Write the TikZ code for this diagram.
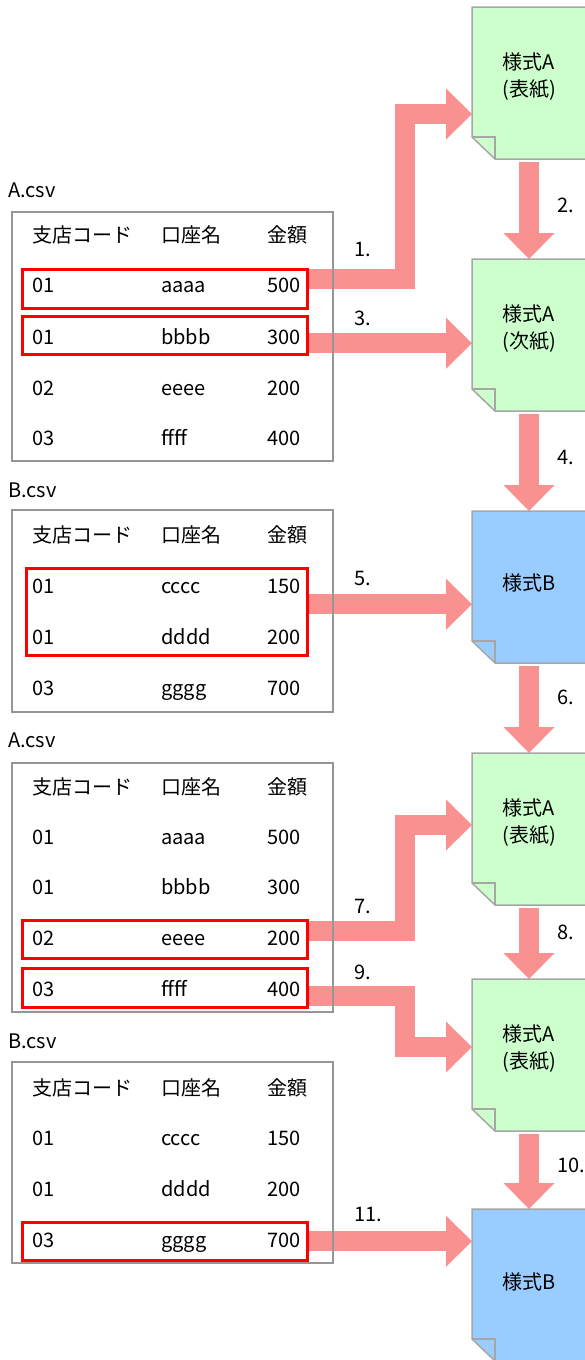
\documentclass[tikz,border=0pt]{standalone}
\usepackage{fontspec}
\setmainfont{Noto Sans CJK JP}
\usetikzlibrary{arrows.meta}
\definecolor{sheetA}{RGB}{204,255,204}
\definecolor{sheetB}{RGB}{153,204,255}
\definecolor{sheetgray}{RGB}{166,166,166}
\definecolor{tablegray}{RGB}{150,150,150}
\definecolor{arrowpink}{RGB}{250,145,145}
\pgfdeclarelayer{back}
\pgfsetlayers{back,main}

\begin{document}
\begin{tikzpicture}[x=1pt, y=-1pt, font=\fontsize{20}{24}\selectfont,
    fat/.style={draw=arrowpink, line width=20pt, line join=miter,
      -{Triangle[width=51pt, length=26pt, line width=0pt]}},
    cell/.style={anchor=west, inner sep=0pt, text height=14pt, text depth=0pt},
    csvlabel/.style={cell},
    steplabel/.style={cell},
    tablebox/.style={draw=tablegray, line width=1.6pt, anchor=north west,
      minimum width=321pt, inner sep=0pt, outer sep=0pt},
    rowbox/.style={draw=red, line width=2.5pt, anchor=north west,
      minimum width=285pt, inner sep=0pt},
    sheetbox/.style={anchor=north west, minimum width=114pt,
      minimum height=152pt, inner sep=0pt, outer sep=0pt},
    sheetline/.style={draw=sheetgray, line width=1.5pt},
    sheettext/.style={align=center, inner sep=0pt,
      font=\fontsize{20}{27}\selectfont}]

  \useasboundingbox (0,0) rectangle (585,1360);
  \clip (0,0) rectangle (585,1360);

  % output sheets
  \foreach \fm/\fy/\fc/\ft/\fd in {f1/7/sheetA/{様式A\\(表紙)}/6,
      f2/259/sheetA/{様式A\\(次紙)}/6, f3/511/sheetB/{様式B}/4,
      f4/753/sheetA/{様式A\\(表紙)}/6, f5/979/sheetA/{様式A\\(表紙)}/6,
      f6/1209/sheetB/{様式B}/3}{
    \node[sheetbox] (\fm) at (472,\fy) {};
    \draw[sheetline, fill=\fc] (\fm.north west) -- (\fm.north east)
      -- (\fm.south east) -- ++(-91,0) -- ++(-23,-22) -- cycle;
    \draw[sheetline] (\fm.south west) ++(0,-22) -- ++(23,0) -- ++(0,22);
    \node[sheettext] (\fm-txt) at ([yshift=\fd pt]\fm.center) {\ft};
  }

  % A.csv
  \node[csvlabel] (la1) at (8,190) {A.csv};
  \node[tablebox, minimum height=249pt] (t1) at (12,212) {};
  \foreach \ry/\ca/\cb/\cv in {235/支店コード/口座名/金額, 285/01/aaaa/500,
      337/01/bbbb/300, 388/02/eeee/200, 438/03/ffff/400}{
    \node[cell] (t1-\ry-a) at (32,\ry) {\ca};
    \node[cell] (t1-\ry-b) at (161,\ry) {\cb};
    \node[cell] (t1-\ry-c) at (267,\ry) {\cv};
  }
  \node[rowbox, minimum height=39pt] (r1) at (21,268) {};
  \node[rowbox, minimum height=38pt] (r3) at (21,315) {};

  % B.csv
  \node[csvlabel] (lb1) at (8,490) {B.csv};
  \node[tablebox, minimum height=202pt] (t2) at (12,510) {};
  \foreach \ry/\ca/\cb/\cv in {535/支店コード/口座名/金額, 586/01/cccc/150,
      637/01/dddd/200, 688/03/gggg/700}{
    \node[cell] (t2-\ry-a) at (32,\ry) {\ca};
    \node[cell] (t2-\ry-b) at (161,\ry) {\cb};
    \node[cell] (t2-\ry-c) at (267,\ry) {\cv};
  }
  \node[rowbox, minimum width=281pt, minimum height=87pt] (r5) at (25,567) {};

  % A.csv again
  \node[csvlabel] (la2) at (8,740) {A.csv};
  \node[tablebox, minimum height=249pt] (t3) at (12,763) {};
  \foreach \ry/\ca/\cb/\cv in {787/支店コード/口座名/金額, 837/01/aaaa/500,
      887/01/bbbb/300, 938/02/eeee/200, 989/03/ffff/400}{
    \node[cell] (t3-\ry-a) at (32,\ry) {\ca};
    \node[cell] (t3-\ry-b) at (161,\ry) {\cb};
    \node[cell] (t3-\ry-c) at (267,\ry) {\cv};
  }
  \node[rowbox, minimum height=38pt] (r7) at (21,919) {};
  \node[rowbox, minimum height=39pt] (r9) at (21,967) {};

  % B.csv again
  \node[csvlabel] (lb2) at (8,1041) {B.csv};
  \node[tablebox, minimum height=201pt] (t4) at (12,1062) {};
  \foreach \ry/\ca/\cb/\cv in {1088/支店コード/口座名/金額, 1138/01/cccc/150,
      1189/01/dddd/200, 1240/03/gggg/700}{
    \node[cell] (t4-\ry-a) at (32,\ry) {\ca};
    \node[cell] (t4-\ry-b) at (161,\ry) {\cb};
    \node[cell] (t4-\ry-c) at (267,\ry) {\cv};
  }
  \node[rowbox, minimum height=38pt] (r11) at (21,1221) {};

  % arrows
  \coordinate (s1) at ([yshift=9.5pt]r1.east);
  \coordinate (s3) at ([yshift=-8pt]r3.east);
  \coordinate (s5) at ([yshift=7.5pt]r5.east);
  \coordinate (s7) at ([yshift=8pt]r7.east);
  \coordinate (s9) at ([yshift=-8.5pt]r9.east);
  \coordinate (s11) at (r11.east);
  \begin{pgfonlayer}{back}
    \draw[fat] (s1) -- ++(96,0) |- ([yshift=-31pt]f1.west);
    \draw[fat] (s3) -- (s3 -| f2.west);
    \draw[fat] (s5) -- (s5 -| f3.west);
    \draw[fat] (s7) -- ++(96,0) |- ([yshift=4pt]f4.west);
    \draw[fat] (s9) -- ++(96,0) |- ([yshift=8pt]f5.west);
    \draw[fat] (s11) -- (s11 -| f6.west);
    \draw[fat] ([yshift=-3pt]f1.south) -- (f2.north);
    \draw[fat] ([yshift=-3pt]f2.south) -- (f3.north);
    \draw[fat] ([yshift=-3pt]f3.south) -- (f4.north);
    \draw[fat] ([yshift=-3pt]f4.south) -- (f5.north);
    \draw[fat] ([yshift=-3pt]f5.south) -- (f6.north);
  \end{pgfonlayer}

  % step numbers
  \node[steplabel] (n1) at (354,249) {1.};
  \node[steplabel] (n2) at (557,205) {2.};
  \node[steplabel] (n3) at (354,318) {3.};
  \node[steplabel] (n4) at (557,457) {4.};
  \node[steplabel] (n5) at (354,578) {5.};
  \node[steplabel] (n6) at (557,697) {6.};
  \node[steplabel] (n7) at (354,906) {7.};
  \node[steplabel] (n8) at (557,932) {8.};
  \node[steplabel] (n9) at (354,972) {9.};
  \node[steplabel] (n10) at (557,1165) {10.};
  \node[steplabel] (n11) at (354,1214) {11.};
\end{tikzpicture}
\end{document}
